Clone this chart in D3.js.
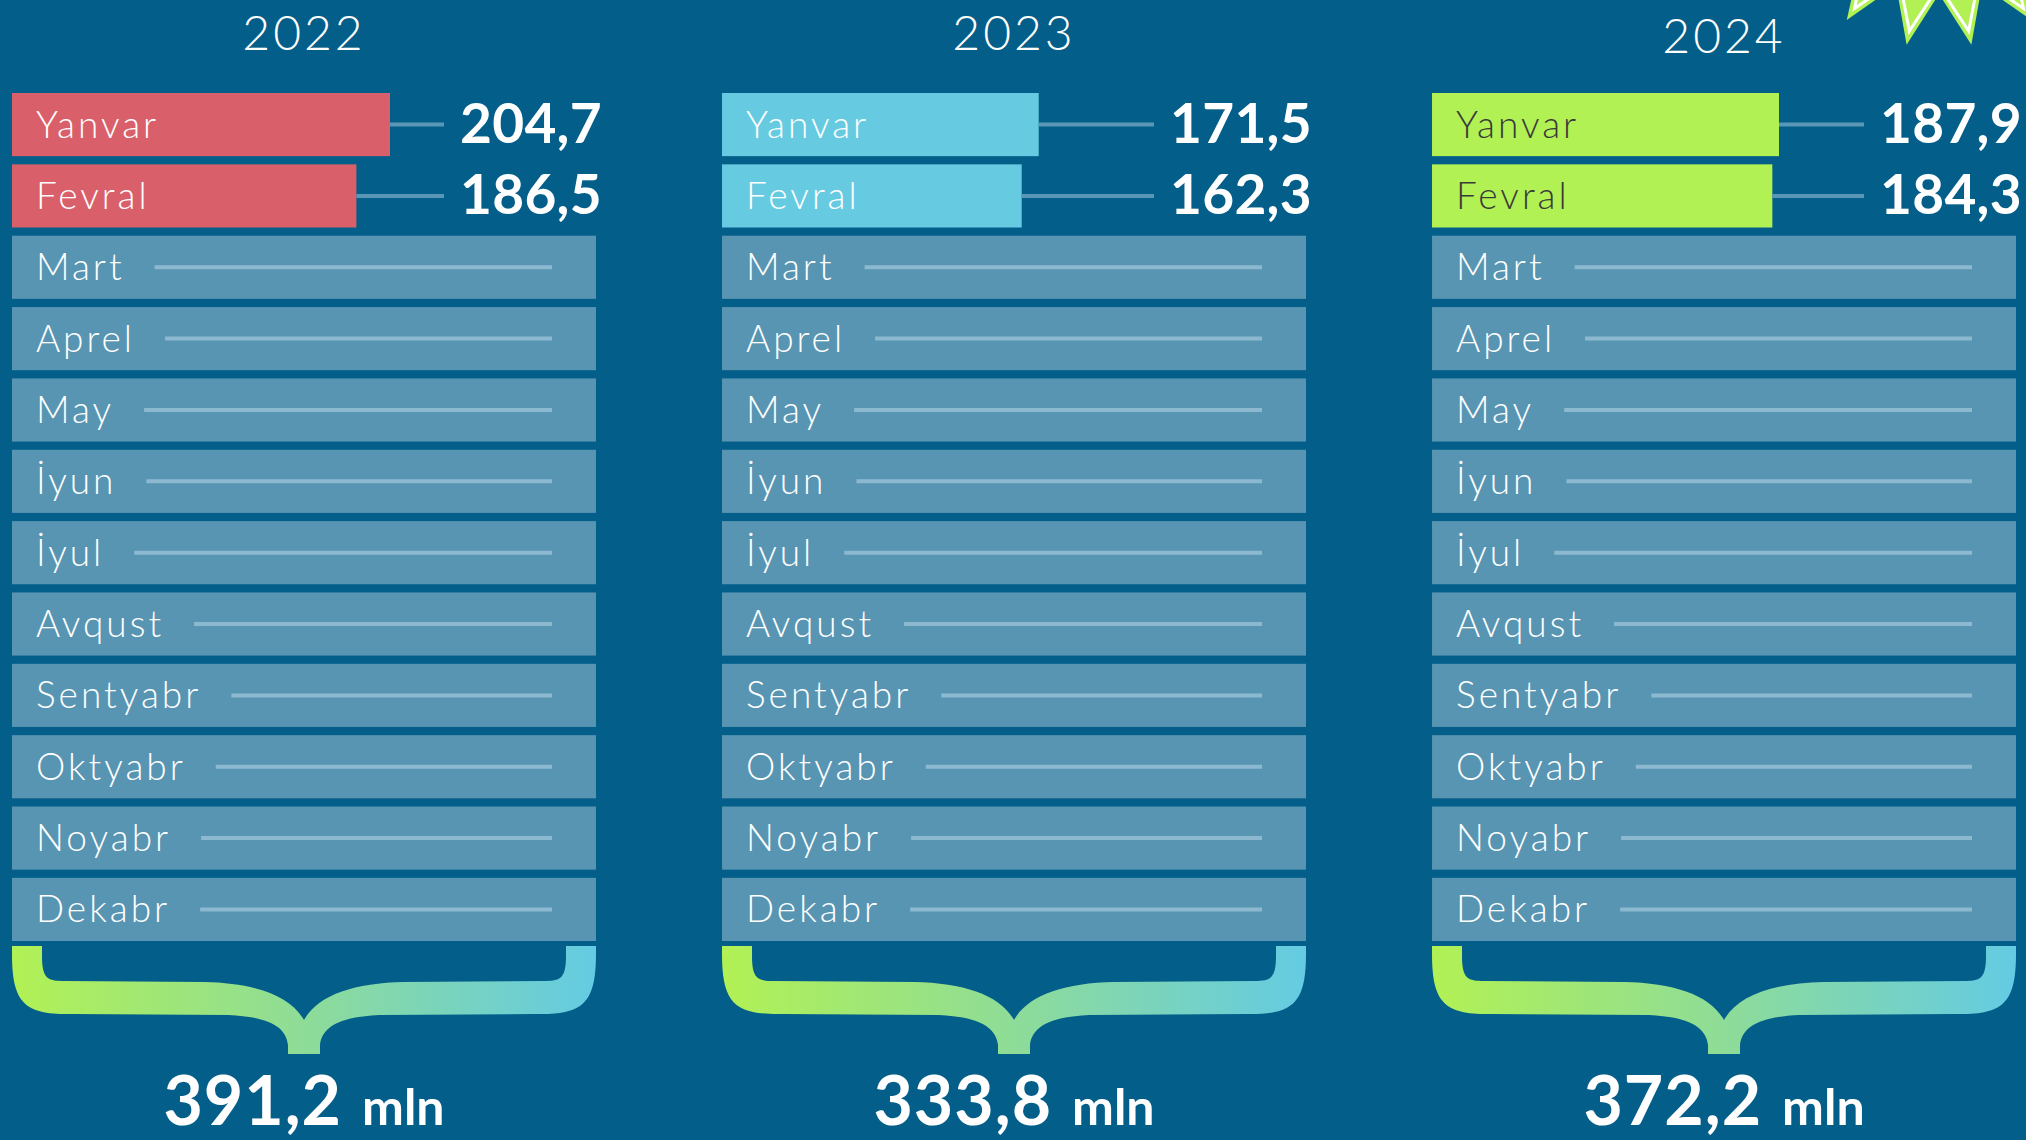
<!DOCTYPE html>
<html>
<head>
<meta charset="utf-8">
<script src="https://cdn.jsdelivr.net/npm/d3@7"></script>
<style>
html, body { margin: 0; padding: 0; background: #035e89; }
svg { display: block; }
text { font-family: 'Lato', 'Open Sans', sans-serif; }
</style>
</head>
<body>
<div id="svgDiv"></div>
<script>
//data
var years = ['2022', '2023', '2024'];
var months = ['Yanvar', 'Fevral', 'Mart', 'Aprel', 'May', 'İyun', 'İyul',
              'Avqust', 'Sentyabr', 'Oktyabr', 'Noyabr', 'Dekabr'];
var values2022 = [204.7, 186.5];
var values2023 = [171.5, 162.3];
var values2024 = [187.9, 184.3];
var totals = [391.2, 333.8, 372.2];
var totalUnit = 'mln';

//svg
var svgWidth = 2026, svgHeight = 1140;
var svg = d3.select('#svgDiv')
    .append('svg')
    .attr('width', svgWidth)
    .attr('height', svgHeight);

svg.append('rect')
    .attr('width', svgWidth)
    .attr('height', svgHeight)
    .attr('fill', '#035e89');

//scales
var seriesByYear = [values2022, values2023, values2024];
var allValues = d3.merge(seriesByYear);
var panelScale = d3.scaleBand().domain(years).range([12, 2016]).paddingInner(0.1775);
var rowScale = d3.scaleBand().domain(months).range([93, 941]).paddingInner(0.115);
var xScale = d3.scaleLinear().domain([0, d3.max(allValues)]).range([0, 378]);
var colorScale = d3.scaleOrdinal().domain(years).range(['#d9606a', '#66cbe1', '#b2f154']);
var labelColor = d3.scaleOrdinal().domain(years).range(['#ffffff', '#ffffff', '#3a3a3a']);
var fmt = d3.formatLocale({decimal: ',', thousands: ' ', grouping: [3], currency: ['', '']}).format('.1f');

// gradient for the braces
var grad = svg.append('defs').append('linearGradient')
    .attr('id', 'braceGrad')
    .attr('x1', '0%').attr('x2', '100%').attr('y1', '0%').attr('y2', '0%');
grad.append('stop').attr('offset', '0%').attr('stop-color', '#b2f154');
grad.append('stop').attr('offset', '50%').attr('stop-color', '#8edc98');
grad.append('stop').attr('offset', '100%').attr('stop-color', '#64cbe3');

// curly brace outline between x0 and x1
function bracePath(x0, x1)
{
    var cx = (x0 + x1) / 2, w = 30;
    var y0 = 946, yI = 981, yO = 1015, tip = 1020, bot = 1054, sw = 16;
    var p = d3.path();
    p.moveTo(x0, y0);
    p.lineTo(x0, y0 + 8);
    p.bezierCurveTo(x0, yO - 10, x0 + 14, yO, x0 + 62, yO - 1);
    p.lineTo(cx - 75, yO);
    p.bezierCurveTo(cx - 35, yO + 2, cx - 18, yO + 12, cx - sw, yO + 30);
    p.lineTo(cx - sw, bot);
    p.lineTo(cx + sw, bot);
    p.lineTo(cx + sw, yO + 30);
    p.bezierCurveTo(cx + 18, yO + 12, cx + 35, yO + 2, cx + 75, yO);
    p.lineTo(x1 - 62, yO - 1);
    p.bezierCurveTo(x1 - 14, yO, x1, yO - 10, x1, y0 + 8);
    p.lineTo(x1, y0);
    p.lineTo(x1 - w, y0);
    p.lineTo(x1 - w, y0 + 10);
    p.bezierCurveTo(x1 - w, yI - 2, x1 - w - 6, yI, x1 - w - 22, yI);
    p.lineTo(cx + 100, yI + 1);
    p.bezierCurveTo(cx + 50, yI + 2, cx + 14, yI + 14, cx, tip);
    p.bezierCurveTo(cx - 14, yI + 14, cx - 50, yI + 2, cx - 100, yI + 1);
    p.lineTo(x0 + w + 22, yI);
    p.bezierCurveTo(x0 + w + 6, yI, x0 + w, yI - 2, x0 + w, y0 + 10);
    p.lineTo(x0 + w, y0);
    p.closePath();
    return p.toString();
}

var valueOffset = 448;   // where the value numbers start inside a panel
var emptyLineEnd = 540;  // where placeholder lines end inside a panel

years.forEach(function(year, yi) {
    var pw = panelScale.bandwidth();
    var g = svg.append('g')
        .attr('transform', 'translate(' + panelScale(year) + ',0)');
    var vals = seriesByYear[yi];
    var rows = months.map(function(m, i) {
        return {month: m, value: i < vals.length ? vals[i] : null};
    });

    // year title
    g.append('text')
        .attr('x', pw / 2).attr('y', 50 + (yi === 2 ? 3 : 0))
        .attr('text-anchor', 'middle')
        .attr('fill', '#fff')
        .style('font-size', '48px')
        .style('font-weight', 300)
        .style('letter-spacing', '3px')
        .text(year);

    var rowG = g.selectAll('g.row')
        .data(rows).enter().append('g')
        .attr('class', 'row')
        .attr('transform', d => 'translate(0,' + rowScale(d.month) + ')');
    var bh = rowScale.bandwidth();

    rowG.append('rect')
        .attr('width', d => d.value === null ? pw : xScale(d.value))
        .attr('height', bh)
        .attr('fill', d => d.value === null ? '#5895b2' : colorScale(year));

    rowG.append('text')
        .attr('x', 24).attr('y', bh / 2 + 13)
        .attr('fill', d => d.value === null ? '#fff' : labelColor(year))
        .style('font-size', '37px')
        .style('font-weight', 300)
        .style('letter-spacing', '3px')
        .text(d => d.month);

    // placeholder lines for empty months
    rowG.filter(d => d.value === null)
        .append('line')
        .attr('x1', function() {
            var t = d3.select(this.parentNode).select('text').node();
            return 24 + t.getComputedTextLength() + 30;
        })
        .attr('x2', emptyLineEnd)
        .attr('y1', bh / 2).attr('y2', bh / 2)
        .attr('stroke', '#8cb9d0')
        .attr('stroke-width', 4);

    // connector + value for filled months
    var filled = rowG.filter(d => d.value !== null);
    filled.append('line')
        .attr('x1', d => xScale(d.value))
        .attr('x2', valueOffset - 16)
        .attr('y1', bh / 2).attr('y2', bh / 2)
        .attr('stroke', '#5a97b7')
        .attr('stroke-width', 4);
    filled.append('text')
        .attr('x', valueOffset).attr('y', bh / 2 + 18)
        .attr('fill', '#fff')
        .style('font-size', '55px')
        .style('font-weight', 700)
        .style('letter-spacing', '0.3px')
        .text(d => fmt(d.value));

    // brace
    g.append('path')
        .attr('d', bracePath(0, pw))
        .attr('fill', 'url(#braceGrad)');

    // total
    var tot = g.append('text')
        .attr('x', pw / 2).attr('y', 1125)
        .attr('text-anchor', 'middle')
        .attr('fill', '#fff')
        .style('font-weight', 700);
    tot.append('tspan')
        .style('font-size', '68px')
        .style('letter-spacing', '1px')
        .text(fmt(totals[yi]));
    tot.append('tspan')
        .attr('dx', 20)
        .style('font-size', '50px')
        .text(totalUnit);
});

// starburst decoration, top right
var starPts = 16, starCx = 1939, starCy = -118;
function starLine(rOut, rIn) {
    var pts = d3.range(starPts * 2).map(function(i) {
        var a = Math.PI + Math.PI / starPts + i * Math.PI / starPts;
        return [a, i % 2 === 0 ? rOut : rIn];
    });
    return d3.lineRadial().curve(d3.curveLinearClosed)(pts);
}
var starG = svg.append('g').attr('transform', 'translate(' + starCx + ',' + starCy + ')');
starG.append('path').attr('d', starLine(166, 112)).attr('fill', '#b2f154');
starG.append('path').attr('d', starLine(152, 104))
    .attr('fill', 'none').attr('stroke', '#fff').attr('stroke-width', 3);
</script>
</body>
</html>
